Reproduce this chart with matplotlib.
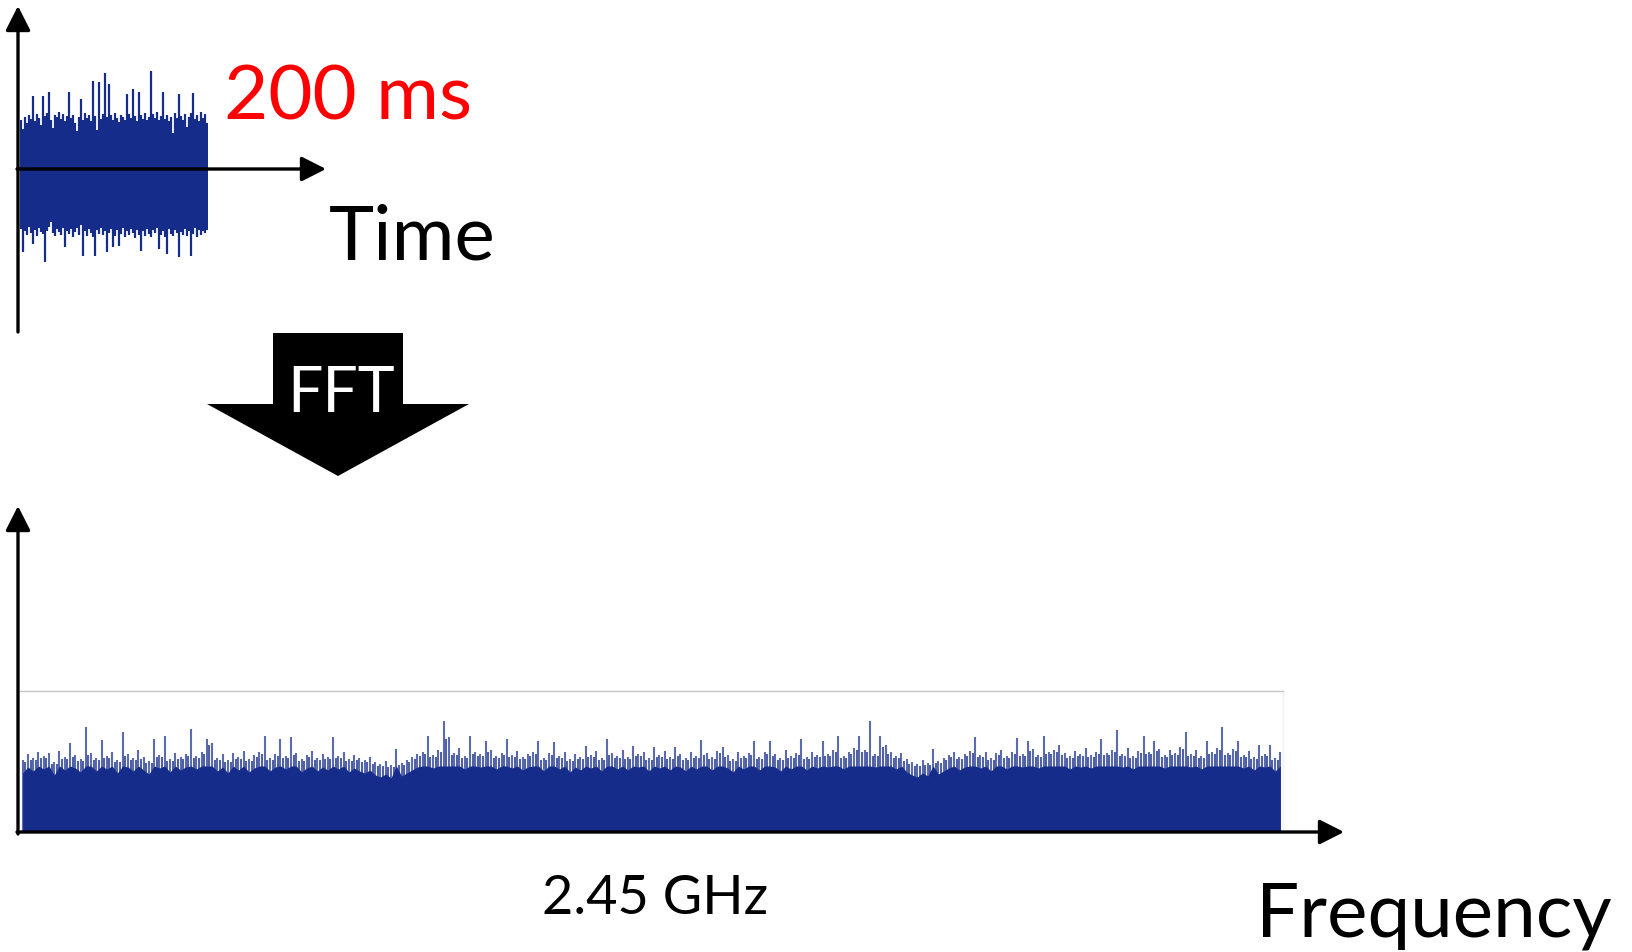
import numpy as np
import matplotlib
matplotlib.use("Agg")
import matplotlib.pyplot as plt
from matplotlib.patches import FancyArrow

plt.rcParams['font.family'] = ['Lato', 'DejaVu Sans']

# ---------------- data ----------------
# time-domain noise burst: upper / lower envelope (pixels above / below zero line)
time_upper = [49, 40, 52, 46, 54, 50, 73, 48, 55, 51, 44, 73, 53, 56, 77, 49, 41, 54, 52, 57,
              50, 55, 48, 53, 77, 51, 54, 46, 38, 52, 70, 49, 56, 51, 54, 48, 88, 53, 39, 87,
              50, 55, 96, 52, 85, 54, 49, 56, 51, 47, 54, 52, 49, 75, 55, 51, 80, 53, 48, 77,
              54, 50, 56, 49, 52, 98, 55, 51, 57, 49, 53, 77, 50, 54, 48, 52, 36, 56, 51, 75,
              53, 49, 55, 42, 52, 56, 76, 50, 54, 48, 57, 51, 55, 46]
time_lower = [60, 83, 62, 66, 58, 64, 75, 61, 67, 59, 63, 65, 93, 62, 58, 53, 64, 67, 60, 63,
              66, 59, 78, 62, 65, 60, 68, 63, 59, 66, 56, 87, 62, 67, 60, 64, 68, 87, 61, 65,
              59, 66, 62, 83, 64, 60, 78, 67, 61, 77, 65, 59, 68, 62, 66, 60, 64, 69, 61, 66,
              82, 62, 67, 60, 65, 68, 61, 64, 59, 80, 66, 62, 68, 85, 60, 65, 67, 61, 64, 88,
              63, 66, 60, 67, 62, 87, 65, 59, 68, 61, 66, 62, 64, 61]

# spectrum magnitude (pixels above frequency axis)
spectrum = [72, 78, 74, 80, 76, 79, 70, 81, 75, 89, 77, 73, 105, 79, 74, 92, 76, 80, 72, 100,
            78, 74, 82, 75, 71, 93, 77, 96, 73, 79, 75, 78, 103, 76, 80, 93, 89, 74, 78, 72,
            79, 75, 81, 73, 77, 80, 96, 74, 78, 93, 76, 95, 79, 73, 77, 81, 74, 78, 75, 95,
            76, 80, 73, 77, 74, 72, 75, 70, 68, 71, 67, 83, 69, 72, 75, 78, 80, 96, 77, 82,
            111, 95, 79, 84, 76, 96, 80, 78, 91, 82, 76, 79, 93, 77, 81, 75, 78, 80, 91, 74,
            79, 90, 76, 80, 73, 78, 75, 86, 77, 81, 74, 93, 79, 76, 82, 75, 86, 78, 80, 74,
            85, 77, 81, 75, 85, 78, 74, 80, 76, 92, 79, 75, 81, 85, 77, 73, 80, 76, 79, 91,
            75, 80, 91, 78, 74, 82, 76, 79, 93, 75, 80, 77, 91, 78, 82, 96, 76, 80, 84, 96,
            82, 111, 78, 96, 87, 80, 76, 79, 73, 70, 68, 72, 69, 83, 71, 74, 77, 80, 75, 78,
            81, 95, 77, 80, 74, 79, 82, 76, 80, 94, 78, 91, 83, 77, 96, 80, 82, 87, 79, 76,
            81, 78, 84, 77, 80, 93, 79, 82, 102, 78, 84, 76, 81, 96, 80, 91, 83, 77, 82, 79,
            85, 100, 78, 82, 76, 91, 80, 84, 105, 79, 83, 91, 77, 81, 75, 87, 78, 87, 74, 80]

label_duration = "200 ms"
label_time = "Time"
label_fft = "FFT"
label_center = "2.45 GHz"
label_freq = "Frequency"

BLUE = '#162c8a'
W, H = 1633, 953

fig = plt.figure(figsize=(W / 100, H / 100), dpi=100)
fig.patch.set_facecolor('white')


def rect(x0, y0, x1, y1):
    """pixel box (top-left origin) -> figure fraction rect"""
    return [x0 / W, 1 - y1 / H, (x1 - x0) / W, (y1 - y0) / H]


# ---------------- time-domain burst ----------------
axt = fig.add_axes(rect(20, 60, 208, 280))
n_t = len(time_upper)
xt = np.arange(n_t)
axt.vlines(xt, -np.array(time_lower), np.array(time_upper), color=BLUE, lw=1.6)
axt.set_xlim(-0.5, n_t - 0.5)
axt.set_ylim(-110, 110)
axt.axis('off')

# ---------------- spectrum ----------------
axs = fig.add_axes(rect(20, 692, 1283, 833))
spec = np.array(spectrum, dtype=float)
n_s = len(spec)
xs = np.arange(n_s)
core = np.minimum(spec - 13, 66)
axs.fill_between(xs, 0, core, color=BLUE, lw=0)
axs.vlines(xs, 0, spec, color=BLUE, lw=1.5, alpha=0.7)
pair_min = np.minimum(spec[:-1], spec[1:])
axs.vlines(xs[:-1] + 0.5, 0, pair_min - 2, color=BLUE, lw=1.5, alpha=0.75)
axs.set_xlim(-0.5, n_s - 0.5)
axs.set_ylim(0, 141)
for side in ['left', 'bottom']:
    axs.spines[side].set_visible(False)
axs.spines['right'].set_color('#f2f2f2')
axs.spines['right'].set_linewidth(1.0)
axs.spines['top'].set_color('#c4c4c4')
axs.spines['top'].set_linewidth(1.0)
axs.set_xticks([])
axs.set_yticks([])

# ---------------- overlay: axes arrows, FFT arrow, texts ----------------
ax = fig.add_axes([0, 0, 1, 1], zorder=10)
ax.set_xlim(0, W)
ax.set_ylim(H, 0)
ax.axis('off')
ax.patch.set_alpha(0)

arrow_kw = dict(arrowstyle='-|>,head_width=0.38,head_length=0.75', lw=2.4,
                color='black', shrinkA=0, shrinkB=0, mutation_scale=20)
# time plot axes
ax.annotate('', xy=(18, 7), xytext=(18, 333), arrowprops=arrow_kw)
ax.annotate('', xy=(326, 170), xytext=(17, 170), arrowprops=arrow_kw)
# spectrum axes
ax.annotate('', xy=(18, 507), xytext=(18, 835), arrowprops=arrow_kw)
ax.annotate('', xy=(1344, 833), xytext=(17, 833), arrowprops=arrow_kw)

# FFT block arrow
ax.add_patch(FancyArrow(338, 334, 0, 143, width=130, head_width=262, head_length=72,
                        length_includes_head=True, color='black', lw=0))

ax.text(224, 120, label_duration, color='#ff0000', fontsize=55, ha='left', va='baseline')
ax.text(329, 260, label_time, color='black', fontsize=55, ha='left', va='baseline')
ax.text(341, 412, label_fft, color='white', fontsize=45, ha='center', va='baseline')
ax.text(655, 914, label_center, color='black', fontsize=39, ha='center', va='baseline')
ax.text(1256, 937, label_freq, color='black', fontsize=55, ha='left', va='baseline')

fig.savefig('out.png', dpi=100, facecolor='white')
